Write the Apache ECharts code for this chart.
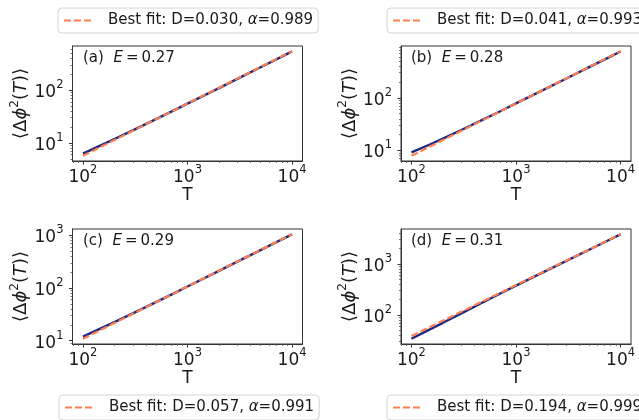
<!DOCTYPE html>
<html><head><meta charset="utf-8">
<script src="https://cdn.jsdelivr.net/npm/echarts@6/dist/echarts.min.js"></script>
<style>html,body{margin:0;padding:0;background:#fff}#c{width:639px;height:420px}</style>
</head><body><div id="c"></div>
<script>
// ---- data ----
const T = [100, 150, 200, 300, 500, 700, 1000, 2000, 3000, 5000, 7000, 10000];
const dataA = [6.3, 9.1, 11.9, 17.3, 28.3, 39.1, 55.5, 109, 163, 270, 376, 540];
const dataB = [9.2, 13.0, 16.8, 24.5, 40, 55, 78.5, 155, 231, 383, 534, 760];
const dataC = [12.0, 17.4, 22.6, 33, 54, 75, 107, 212, 317, 525, 733, 1045];
const dataD = [34, 52, 70, 107, 183, 260, 376, 760, 1140, 1905, 2670, 3820];
const fitT = [100, 10000];
const fitA = [5.73, 542];
const fitB = [7.94, 769];
const fitC = [10.9, 1049];
const fitD = [38.6, 3844];
const panelLabels = ['(a)', '(b)', '(c)', '(d)'];
const energies = ['0.27', '0.28', '0.29', '0.31'];
const fitD_vals = ['0.030', '0.041', '0.057', '0.194'];
const fitAlpha = ['0.989', '0.993', '0.991', '0.999'];
const xLabelName = 'T';

// ---- layout ----
const FONT = 'DejaVu Sans';
const BLUE = '#1c2a80';
const ORANGE = '#ff7f50';
const INK = '#1a1a1a';
const panels = [
  {data: dataA, fit: fitA, left: 72.5, top: 46, legend: {left: 58, top: 8}, ann: {left: 83, top: 51}},
  {data: dataB, fit: fitB, left: 401, top: 46, legend: {left: 387, top: 8}, ann: {left: 411, top: 51}},
  {data: dataC, fit: fitC, left: 72.5, top: 229, legend: {left: 59, top: 395}, ann: {left: 83, top: 234}},
  {data: dataD, fit: fitD, left: 401, top: 229, legend: {left: 387, top: 395}, ann: {left: 411, top: 234}}
];
const W = 230, H = 115;
const lg = Math.log10;

function ticksIn(lo, hi) {
  const major = [], minor = [];
  for (let n = Math.floor(lo) - 1; n <= Math.ceil(hi); n++) {
    if (n >= lo - 1e-9 && n <= hi + 1e-9) major.push(n);
    for (let k = 2; k <= 9; k++) {
      const v = n + lg(k);
      if (v >= lo && v <= hi) minor.push(v);
    }
  }
  return {major, minor};
}
const supRich = {
  b: {fontFamily: FONT, fontSize: 17, color: INK, lineHeight: 22, verticalAlign: 'bottom'},
  s: {fontFamily: FONT, fontSize: 11.5, color: INK, lineHeight: 22, verticalAlign: 'top'}
};
const fmtPow = v => '{b|10}{s|' + Math.round(v) + '}';

const grid = [], xAxis = [], yAxis = [], series = [], legend = [], title = [];
panels.forEach((p, i) => {
  const xs = T.map(lg), fx = fitT.map(lg);
  const allY = p.data.concat(p.fit).map(lg);
  const ylo = Math.min(...allY), yhi = Math.max(...allY);
  const ym = 0.05 * (yhi - ylo);
  const xlo = Math.min(...xs, ...fx), xhi = Math.max(...xs, ...fx);
  const xm = 0.05 * (xhi - xlo);
  const xr = [xlo - xm, xhi + xm], yr = [ylo - ym, yhi + ym];
  const xt = ticksIn(xr[0], xr[1]), yt = ticksIn(yr[0], yr[1]);
  const g = 2 * i;
  grid.push({left: p.left, top: p.top, width: W, height: H, show: true, borderColor: '#333', borderWidth: 1, backgroundColor: 'transparent'});
  grid.push({left: p.left, top: p.top, width: W, height: H, show: false});
  xAxis.push({
    gridIndex: g, type: 'value', min: xr[0], max: xr[1], position: 'bottom',
    axisLine: {show: true, lineStyle: {color: '#333', width: 1}},
    axisTick: {show: true, customValues: xt.major, length: 3.5, lineStyle: {color: '#333', width: 1}},
    axisLabel: {customValues: xt.major, formatter: fmtPow, margin: 3, rich: supRich},
    splitLine: {show: false},
    name: xLabelName, nameLocation: 'middle', nameGap: 26,
    nameTextStyle: {fontFamily: FONT, fontSize: 17, color: INK}
  });
  xAxis.push({
    gridIndex: g + 1, type: 'value', min: xr[0], max: xr[1], position: 'bottom',
    axisLine: {show: false},
    axisTick: {show: true, customValues: xt.minor, length: 2, lineStyle: {color: '#555', width: 0.8}},
    axisLabel: {show: false}, splitLine: {show: false}
  });
  yAxis.push({
    gridIndex: g, type: 'value', min: yr[0], max: yr[1], position: 'left',
    axisLine: {show: true, lineStyle: {color: '#333', width: 1}},
    axisTick: {show: true, customValues: yt.major, length: 3.5, lineStyle: {color: '#333', width: 1}},
    axisLabel: {customValues: yt.major, formatter: fmtPow, margin: 9, rich: supRich},
    splitLine: {show: false},
    name: '{t|\u27e8\u0394}{i|\u03d5}{s|2}{t|(}{i|T}{t|)\u27e9}',
    nameLocation: 'middle', nameRotate: 90, nameGap: 42,
    nameTextStyle: {
      rich: {
        t: {fontFamily: FONT, fontSize: 18, color: INK, lineHeight: 22, verticalAlign: 'bottom'},
        i: {fontFamily: FONT, fontSize: 18, fontStyle: 'italic', color: INK, lineHeight: 22, verticalAlign: 'bottom'},
        s: {fontFamily: FONT, fontSize: 12, color: INK, lineHeight: 22, verticalAlign: 'top'}
      }
    }
  });
  yAxis.push({
    gridIndex: g + 1, type: 'value', min: yr[0], max: yr[1], position: 'left',
    axisLine: {show: false},
    axisTick: {show: true, customValues: yt.minor, length: 2, lineStyle: {color: '#555', width: 0.8}},
    axisLabel: {show: false}, splitLine: {show: false}
  });
  const fitName = 'Best fit: D=' + fitD_vals[i] + ', \u03b1=' + fitAlpha[i];
  series.push({
    type: 'line', name: 'data' + i, xAxisIndex: g, yAxisIndex: g, symbol: 'none', silent: true,
    data: T.map((t, k) => [lg(t), lg(p.data[k])]),
    lineStyle: {color: BLUE, width: 2.4}, z: 2
  });
  series.push({
    type: 'line', name: fitName, xAxisIndex: g, yAxisIndex: g, symbol: 'none', silent: true,
    data: fitT.map((t, k) => [lg(t), lg(p.fit[k])]),
    lineStyle: {color: ORANGE, width: 2.2, type: [7, 3]}, itemStyle: {color: ORANGE}, z: 3
  });
  legend.push({
    data: [fitName], left: p.legend.left, top: p.legend.top,
    orient: 'horizontal', itemWidth: 29, itemHeight: 14,
    padding: [5, 5, 5, 5], borderColor: '#d4d4d4', borderWidth: 1, borderRadius: 4,
    backgroundColor: '#fff', selectedMode: false,
    itemStyle: {opacity: 0},
    formatter: () => '{n|Best fit: D=' + fitD_vals[i] + ', }{a|\u03b1}{n|=' + fitAlpha[i] + '}',
    textStyle: {
      padding: [0, 0, 0, 10],
      rich: {
        n: {fontFamily: FONT, fontSize: 15, color: INK, fontWeight: 'normal'},
        a: {fontFamily: FONT, fontSize: 15, fontStyle: 'italic', color: INK, fontWeight: 'normal'}
      }
    }
  });
  title.push({
    text: '{n|' + panelLabels[i] + '  }{i|E}{n|\u2009=\u2009' + energies[i] + '}',
    left: p.ann.left, top: p.ann.top, padding: 0,
    textStyle: {
      fontWeight: 'normal',
      rich: {
        n: {fontFamily: FONT, fontSize: 15, color: INK, fontWeight: 'normal'},
        i: {fontFamily: FONT, fontSize: 15, fontStyle: 'italic', color: INK, fontWeight: 'normal'}
      }
    }
  });
});

const chart = echarts.init(document.getElementById('c'), null, {renderer: 'canvas'});
chart.setOption({
  animation: false,
  backgroundColor: '#fff',
  grid, xAxis, yAxis, series, legend, title
});
</script>
</body></html>
